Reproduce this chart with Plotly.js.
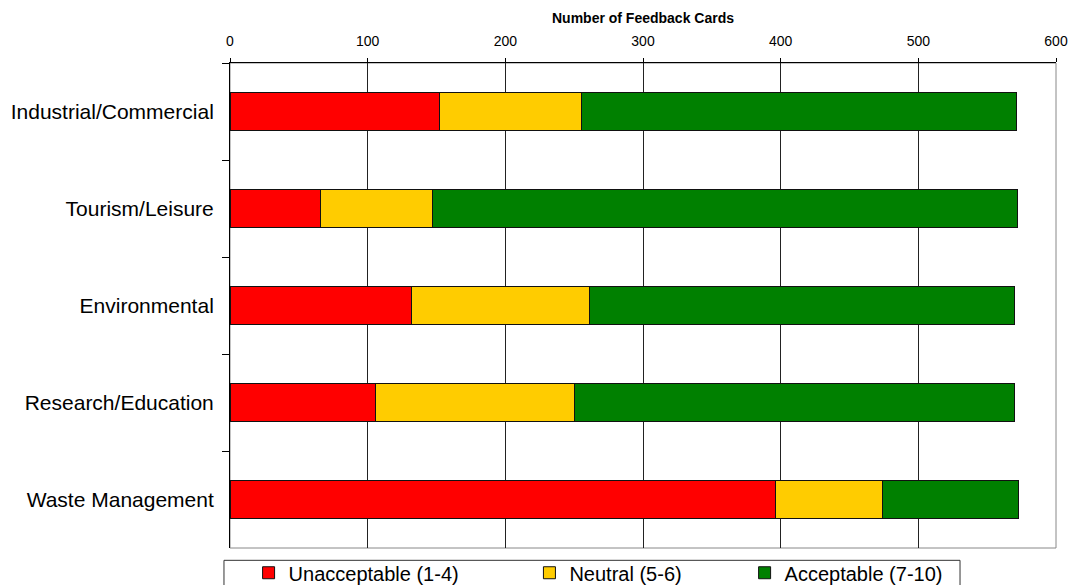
<!DOCTYPE html>
<html>
<head>
<meta charset="utf-8">
<script src="https://cdn.plot.ly/plotly-3.0.1.min.js"></script>
<style>html,body{margin:0;padding:0;background:#fff;}#chart{width:1072px;height:585px;}</style>
</head>
<body>
<div id="chart"></div>
<script>
const categories = ["Industrial/Commercial", "Tourism/Leisure", "Environmental", "Research/Education", "Waste Management"];
const unacceptable = [152, 66, 132, 106, 396];
const neutral = [103, 81, 129, 144, 78];
const acceptable = [316, 425, 309, 320, 99];
const seriesNames = ["Unacceptable (1-4)", "Neutral (5-6)", "Acceptable (7-10)"];
const seriesColors = ["#FF0000", "#FFCC00", "#008000"];
const xTickVals = [0, 100, 200, 300, 400, 500, 600];

const seriesValues = [unacceptable, neutral, acceptable];
const legendIds = ["legend", "legend2", "legend3"];
const traces = seriesValues.map((vals, i) => {
  const t = {
    type: "bar",
    orientation: "h",
    name: seriesNames[i],
    y: categories,
    x: vals,
    showlegend: true,
    marker: {color: seriesColors[i], line: {color: "#111", width: 1}},
    hoverinfo: "x+y+name"
  };
  if (i > 0) t.legend = legendIds[i];
  return t;
});

const FONT = "Liberation Sans, Arial, sans-serif";
function leg(x) {
  return {
    orientation: "h",
    yanchor: "middle",
    y: -0.051,
    xanchor: "left",
    x: x,
    bgcolor: "rgba(0,0,0,0)",
    borderwidth: 0,
    font: {family: FONT, size: 20, color: "#000"}
  };
}

const layout = {
  width: 1072,
  height: 585,
  margin: {l: 230, r: 16, t: 63, b: 37, pad: 0, autoexpand: false},
  paper_bgcolor: "#fff",
  plot_bgcolor: "#fff",
  barmode: "stack",
  bargap: 0.6,
  showlegend: true,
  font: {family: FONT, color: "#000"},
  xaxis: {
    side: "top",
    range: [0, 600],
    tickvals: xTickVals,
    ticktext: xTickVals.map(String),
    ticks: "outside",
    ticklen: 4,
    tickcolor: "#000",
    ticklabelstandoff: 6,
    showline: true,
    linecolor: "#000",
    linewidth: 1,
    showgrid: true,
    gridcolor: "#222",
    gridwidth: 1,
    zeroline: false,
    tickfont: {family: FONT, size: 14, color: "#000"},
    title: {text: "<b>Number of Feedback Cards</b>", font: {family: FONT, size: 14, color: "#000"}, standoff: 6},
    fixedrange: true
  },
  yaxis: {
    type: "category",
    autorange: "reversed",
    tickson: "boundaries",
    ticks: "outside",
    ticklen: 7,
    tickcolor: "#000",
    ticklabelstandoff: 11,
    showline: true,
    linecolor: "#000",
    linewidth: 1,
    showgrid: false,
    zeroline: false,
    tickfont: {family: FONT, size: 21, color: "#000"},
    fixedrange: true
  },
  legend: leg(0.0225),
  legend2: leg(0.3625),
  legend3: leg(0.623),
  shapes: [
    {type: "rect", xref: "paper", yref: "paper", x0: 0, x1: 1, y0: 0, y1: 1,
     line: {color: "#888", width: 1}, fillcolor: "rgba(0,0,0,0)", layer: "below"},
    {type: "rect", xref: "paper", yref: "paper", x0: -0.0073, x1: 0.8838, y0: -0.0254, y1: -0.12,
     line: {color: "#333", width: 1}, fillcolor: "rgba(0,0,0,0)"}
  ]
};

Plotly.newPlot("chart", traces, layout, {displayModeBar: false});
</script>
</body>
</html>
